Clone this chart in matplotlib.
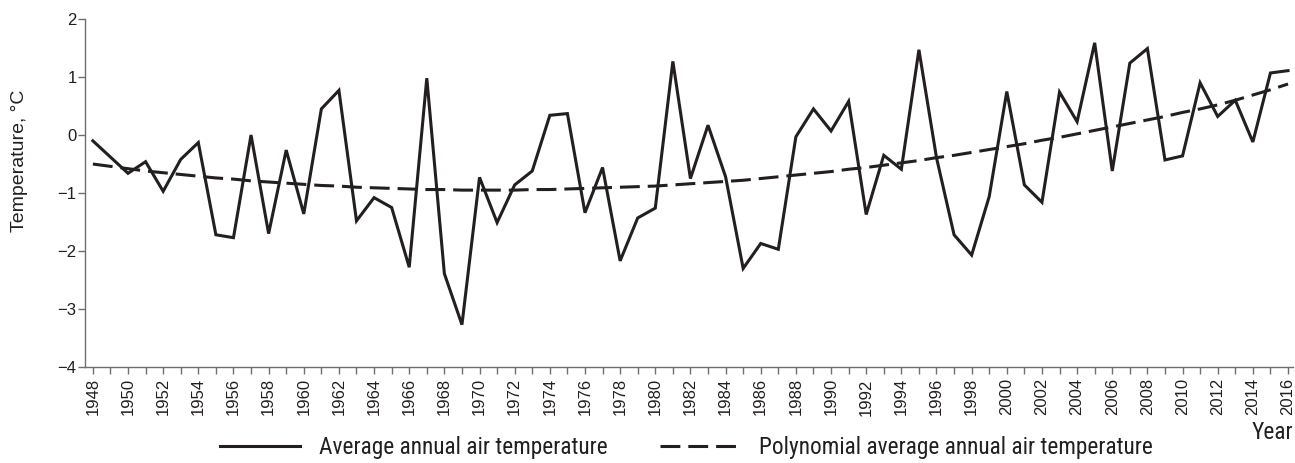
import matplotlib
matplotlib.use("Agg")
import matplotlib.pyplot as plt
from matplotlib import font_manager
import numpy as np
from matplotlib.ticker import MultipleLocator

# annual mean air temperature, degrees C
years = np.arange(1948, 2017)
temp = [-0.10, -0.38, -0.66, -0.46, -0.97, -0.42, -0.13, -1.72, -1.77, 0.00,
        -1.70, -0.26, -1.36, 0.45, 0.77, -1.48, -1.08, -1.25, -2.28, 0.98,
        -2.39, -3.27, -0.73, -1.51, -0.86, -0.62, 0.34, 0.37, -1.34, -0.56,
        -2.17, -1.43, -1.26, 1.27, -0.75, 0.17, -0.72, -2.30, -1.87, -1.97,
        -0.03, 0.45, 0.07, 0.58, -1.37, -0.35, -0.59, 1.47, -0.39, -1.72,
        -2.07, -1.06, 0.75, -0.86, -1.16, 0.74, 0.23, 1.59, -0.62, 1.24,
        1.49, -0.43, -0.36, 0.90, 0.32, 0.60, -0.12, 1.07, 1.11]

# polynomial trend line (dashed)
trend = [-0.50, -0.54, -0.58, -0.62, -0.65, -0.68, -0.71, -0.74, -0.76, -0.79,
         -0.81, -0.83, -0.85, -0.87, -0.88, -0.90, -0.91, -0.92, -0.93, -0.94,
         -0.94, -0.95, -0.95, -0.95, -0.95, -0.94, -0.94, -0.93, -0.92, -0.91,
         -0.90, -0.89, -0.88, -0.86, -0.84, -0.82, -0.80, -0.78, -0.75, -0.72,
         -0.69, -0.66, -0.63, -0.59, -0.56, -0.52, -0.48, -0.44, -0.39, -0.35,
         -0.30, -0.25, -0.20, -0.15, -0.09, -0.04, 0.02, 0.08, 0.14, 0.20,
         0.26, 0.32, 0.39, 0.45, 0.52, 0.60, 0.69, 0.78, 0.88]

ink = '#231f20'
axis_col = '#6d6e71'

# legend text in the original is a condensed face; use one if there is one
installed = {f.name for f in font_manager.fontManager.ttflist}
narrow, narrow_size = 'Liberation Sans', 14
for cand in ['Roboto Condensed', 'Liberation Sans Narrow', 'Open Sans Condensed']:
    if cand in installed:
        narrow, narrow_size = cand, 16.8
        break

plt.rcParams['font.family'] = ['Liberation Sans', 'DejaVu Sans']

fig = plt.figure(figsize=(12.95, 4.63), dpi=100)
ax = fig.add_axes([0.0656, 0.2073, 0.9328, 0.7516])

ax.plot(years, temp, color=ink, lw=2.2, solid_joinstyle='miter',
        label='Average annual air temperature')
ax.plot(years, trend, color=ink, lw=2.2, linestyle=(0, (6.5, 2.6)),
        label='Polynomial average annual air temperature')

ax.set_xlim(1947.55, 2016.28)
ax.set_ylim(-4, 2)
ax.xaxis.set_major_locator(MultipleLocator(2))
ax.xaxis.set_minor_locator(MultipleLocator(1))
ax.yaxis.set_major_locator(MultipleLocator(1))

for s in ['top', 'right']:
    ax.spines[s].set_visible(False)
for s in ['left', 'bottom']:
    ax.spines[s].set_color(axis_col)
    ax.spines[s].set_linewidth(1.0)

ax.tick_params(axis='both', which='both', color=axis_col, length=5, width=1.0,
               labelsize=12, labelcolor=ink)
ax.tick_params(axis='y', pad=1)
ax.tick_params(axis='x', which='major', pad=3, labelrotation=90)

ax.set_ylabel('Temperature, °C', fontsize=14, color=ink)
ax.yaxis.set_label_coords(-0.047, 0.594)

fig.text(0.999, 0.065, 'Year', ha='right', va='center', fontsize=narrow_size,
         family=[narrow, 'DejaVu Sans'], color=ink)

fig.legend(loc='center', bbox_to_anchor=(0.53, 0.034), ncol=2, frameon=False,
           prop={'family': [narrow, 'DejaVu Sans'], 'size': narrow_size},
           handlelength=3.45, handletextpad=0.8, columnspacing=2.25,
           labelcolor=ink, borderpad=0.2)

fig.savefig('out.png', dpi=100)
